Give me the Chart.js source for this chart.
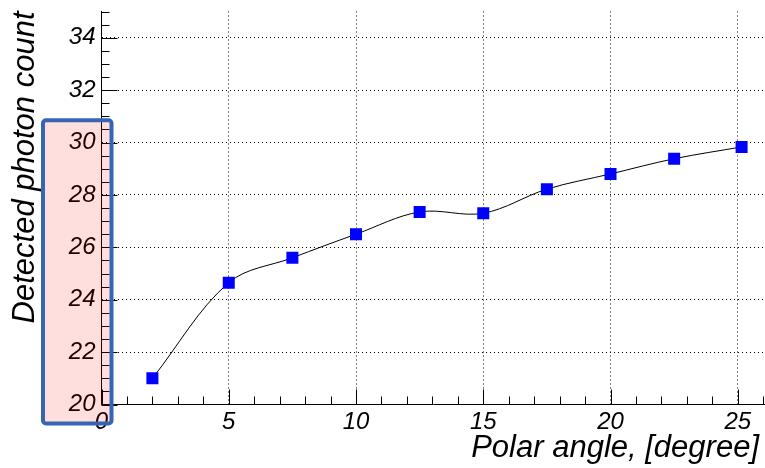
<!DOCTYPE html>
<html>
<head>
<meta charset="utf-8">
<script src="https://cdn.jsdelivr.net/npm/chart.js@4"></script>
<style>
  body { margin: 0; background: #ffffff; }
</style>
</head>
<body>
<canvas id="photonChart" width="765" height="468"></canvas>
<script>
// data
const angles = [2, 5, 7.5, 10, 12.5, 15, 17.5, 20, 22.5, 25.15];
const counts = [21.0, 24.65, 25.6, 26.5, 27.35, 27.3, 28.22, 28.8, 29.38, 29.83];

// axis tick labels
const xTicks = [0, 5, 10, 15, 20, 25];
const yTicks = [20, 22, 24, 26, 28, 30, 32, 34];

const xTitle = "Polar angle, [degree]";
const yTitle = "Detected photon count";

const FONT = "'Liberation Sans', Arial, sans-serif";

// ROOT style ticks drawn inside the frame, x title + the highlight box
const frameExtras = {
  id: "frameExtras",
  afterDatasetsDraw(chart) {
    let ctx = chart.ctx;
    let xs = chart.scales.x;
    let ys = chart.scales.y;
    let area = chart.chartArea;

    ctx.save();
    ctx.strokeStyle = "#000000";
    ctx.lineWidth = 1;
    ctx.beginPath();
    // x ticks, minor every 1, major every 5
    for (let v = 0; v <= xs.max; v += 1) {
      let px = Math.round(xs.getPixelForValue(v)) + 0.5;
      let len = v % 5 == 0 ? 15 : 8;
      ctx.moveTo(px, area.bottom);
      ctx.lineTo(px, area.bottom - len);
    }
    // y ticks, minor every 0.5, major every 2
    for (let v = ys.min; v <= ys.max; v += 0.5) {
      let py = Math.round(ys.getPixelForValue(v)) + 0.5;
      let len = v % 2 == 0 ? 16 : 8;
      ctx.moveTo(area.left, py);
      ctx.lineTo(area.left + len, py);
    }
    ctx.stroke();
    ctx.restore();
  },
  afterDraw(chart) {
    let ctx = chart.ctx;
    let ys = chart.scales.y;
    let area = chart.chartArea;

    // x axis title, right aligned under the axis
    ctx.save();
    ctx.font = "italic 31px " + FONT;
    ctx.fillStyle = "#000000";
    ctx.textAlign = "right";
    ctx.textBaseline = "alphabetic";
    ctx.fillText(xTitle, area.right - 6, area.bottom + 52);
    ctx.restore();

    // highlight box around the lower y labels
    let top = ys.getPixelForValue(30.85);
    let bottom = area.bottom + 19;
    let left = 43;
    let right = area.left + 10;

    ctx.save();
    ctx.beginPath();
    ctx.roundRect(left, top, right - left, bottom - top, 3);
    ctx.fillStyle = "rgba(255, 0, 0, 0.13)";
    ctx.fill();
    ctx.lineWidth = 4;
    ctx.strokeStyle = "#3566b4";
    ctx.stroke();
    ctx.restore();
  },
};

let points = [];
for (let i = 0; i < angles.length; i++) {
  points.push({ x: angles[i], y: counts[i] });
}

let myChart = document.getElementById("photonChart").getContext("2d");
let chart = new Chart(myChart, {
  type: "line",
  data: {
    datasets: [
      {
        data: points,
        borderColor: "#000000",
        borderWidth: 1,
        tension: 0.35,
        pointStyle: "rect",
        pointRadius: 8.5,
        pointBorderWidth: 0,
        pointBackgroundColor: "#0000ff",
        pointBorderColor: "#0000ff",
        fill: false,
      },
    ],
  },
  plugins: [frameExtras],
  options: {
    responsive: false,
    animation: false,
    devicePixelRatio: 1,
    layout: {
      autoPadding: false,
      padding: { top: 11.5, right: 0, left: 0, bottom: 0 },
    },
    plugins: {
      legend: { display: false },
      tooltip: { enabled: false },
    },
    scales: {
      x: {
        type: "linear",
        min: 0,
        max: 26.07,
        afterBuildTicks: (scale) => {
          scale.ticks = xTicks.map((v) => ({ value: v }));
        },
        afterFit: (scale) => {
          scale.height = 63.5;
          scale.paddingLeft = 0;
          scale.paddingRight = 0;
        },
        grid: {
          color: "#000000",
          lineWidth: 1,
          drawTicks: false,
        },
        border: {
          color: "#000000",
          width: 1,
          dash: [1, 3],
        },
        ticks: {
          color: "#000000",
          padding: 3,
          maxRotation: 0,
          autoSkip: false,
          font: { family: FONT, style: "italic", size: 24 },
        },
        title: { display: false },
      },
      y: {
        type: "linear",
        min: 20,
        max: 35,
        afterBuildTicks: (scale) => {
          scale.ticks = yTicks.map((v) => ({ value: v }));
        },
        afterFit: (scale) => {
          scale.width = 101.5;
          scale.paddingTop = 0;
          scale.paddingBottom = 0;
        },
        grid: {
          color: "#000000",
          lineWidth: 1,
          drawTicks: false,
        },
        border: {
          color: "#000000",
          width: 1,
          dash: [1, 3],
        },
        ticks: {
          color: "#000000",
          padding: 6,
          autoSkip: false,
          font: { family: FONT, style: "italic", size: 24 },
        },
        title: {
          display: true,
          text: yTitle,
          align: "end",
          color: "#000000",
          padding: { top: 7, bottom: 0 },
          font: { family: FONT, style: "italic", size: 31 },
        },
      },
    },
  },
});
</script>
</body>
</html>
